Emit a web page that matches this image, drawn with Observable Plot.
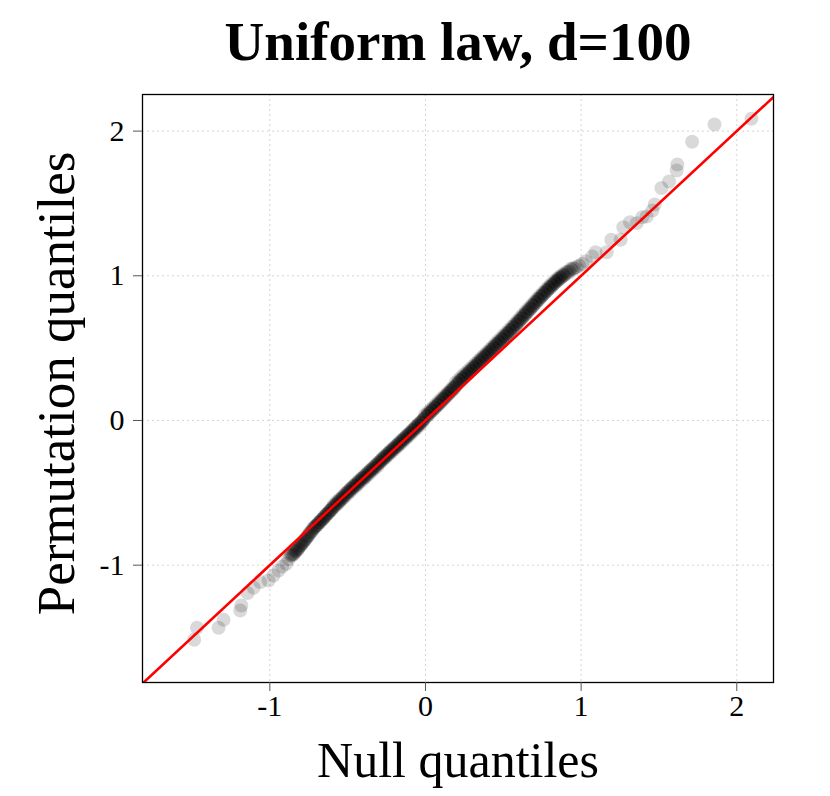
<!DOCTYPE html>
<html>
<head>
<meta charset="utf-8">
<script src="https://cdn.jsdelivr.net/npm/d3@7"></script>
<script src="https://cdn.jsdelivr.net/npm/@observablehq/plot@0.6"></script>
<style>
  html, body { margin: 0; padding: 0; background: #fff; }
  #title {
    box-sizing: border-box; height: 90px; padding-top: 14px; padding-left: 86px;
    width: 830px; text-align: center; font-family: "Liberation Serif", serif;
    font-weight: bold; font-size: 55px; line-height: 55px; color: #000;
  }
</style>
</head>
<body>
<div id="title">Uniform law, d=100</div>
<div id="chart"></div>
<script>
const titleText = "Uniform law, d=100";
const xLabel = "Null quantiles";
const yLabel = "Permutation quantiles";
const xTicks = [-1, 0, 1, 2];
const yTicks = [-1, 0, 1, 2];
const xDomain = [-1.818, 2.236];
const yDomain = [-1.811, 2.253];
const refLine = [-1.9, 2.35];

// Null quantiles (x) and permutation quantiles (y)
const nullQ = [
  -1.486,-1.468,-1.329,-1.297,-1.190,-1.183,-1.143,-1.104,-1.061,-1.008,-0.976,-0.944,-0.920,-0.894,-0.880,-0.868,
  -0.858,-0.850,-0.841,-0.832,-0.822,-0.813,-0.804,-0.795,-0.786,-0.776,-0.767,-0.757,-0.748,-0.738,-0.729,-0.719,-0.710,
  -0.701,-0.692,-0.683,-0.674,-0.664,-0.655,-0.646,-0.637,-0.628,-0.619,-0.610,-0.601,
  -0.592,-0.583,-0.574,-0.565,-0.556,-0.547,-0.538,-0.529,-0.520,-0.511,-0.502,-0.493,-0.484,-0.475,-0.466,-0.457,
  -0.448,-0.439,-0.430,-0.421,-0.412,-0.403,-0.394,-0.385,-0.376,-0.367,-0.358,-0.349,-0.340,-0.331,-0.322,-0.313,-0.304,
  -0.295,-0.286,-0.277,-0.268,-0.259,-0.250,-0.241,-0.232,-0.223,-0.214,-0.205,-0.196,-0.187,-0.178,-0.169,-0.160,
  -0.151,-0.142,-0.133,-0.124,-0.115,-0.106,-0.097,-0.088,-0.079,-0.070,-0.061,-0.052,-0.043,-0.034,-0.025,-0.016,-0.007,
  0.002,0.011,0.020,0.029,0.038,0.047,0.056,0.065,0.074,0.083,0.092,0.101,0.110,0.119,0.128,0.137,0.146,0.155,0.164,0.173,0.182,0.191,
  0.200,0.209,0.218,0.227,0.236,0.245,0.254,0.263,0.272,0.281,0.290,0.299,0.308,0.317,0.326,0.335,0.344,0.353,0.362,0.371,
  0.380,0.389,0.398,0.407,0.416,0.425,0.434,0.443,
  0.452,0.461,0.470,0.479,0.488,0.497,0.506,0.515,0.524,0.533,0.542,0.551,0.560,0.569,0.578,0.587,0.596,0.605,0.614,0.623,0.632,0.641,
  0.650,0.659,0.668,0.677,0.686,0.695,0.704,0.713,0.722,0.731,0.740,0.749,0.758,0.767,0.776,0.785,0.794,0.803,0.812,0.821,
  0.830,0.839,0.848,0.857,0.866,0.875,0.884,
  0.896,0.910,0.924,0.940,0.956,0.972,0.988,
  1.007,1.030,1.072,1.093,1.164,1.194,1.254,1.271,1.314,1.357,1.393,1.421,1.458,1.473,1.516,1.565,1.614,1.618,1.713,1.857,2.094,
  -0.862,-0.846,-0.836,-0.827,-0.818,-0.808,-0.799,-0.790,-0.781,-0.771,-0.762,-0.752,-0.743,-0.733,-0.724,-0.714,-0.705,
  -0.696,-0.687,-0.678,-0.669,-0.660,-0.651,-0.642,-0.633,-0.624,-0.615,-0.606,
  -0.597,-0.588,-0.579,-0.570,-0.561,-0.552,-0.543,-0.534,-0.525,-0.516,-0.507,-0.498,-0.489,-0.480,-0.471,-0.462,-0.453,
  -0.444,-0.435,-0.426,-0.417,-0.408,-0.399,-0.390,-0.381,-0.372,-0.363,-0.354,-0.345,-0.336,-0.327,-0.318,-0.309,-0.300,
  -0.291,-0.282,-0.273,-0.264,-0.255,-0.246,-0.237,-0.228,-0.219,-0.210,-0.201,-0.192,-0.183,-0.174,-0.165,-0.156,-0.147,
  -0.138,-0.129,-0.120,-0.111,-0.102,-0.093,-0.084,-0.075,-0.066,-0.057,-0.048,-0.039,-0.030,-0.021,-0.012,-0.003,
  0.006,0.015,0.024,0.033,0.042,0.051,0.060,0.069,0.078,0.087,0.096,0.105,0.114,0.123,0.132,0.141,0.150,0.159,0.168,0.177,0.186,0.195,
  0.204,0.213,0.222,0.231,0.240,0.249,0.258,0.267,0.276,0.285,0.294,0.303,0.312,0.321,0.330,0.339,0.348,0.357,0.366,0.375,
  0.384,0.393,0.402,0.411,0.420,0.429,0.438,0.447,
  0.456,0.465,0.474,0.483,0.492,0.501,0.510,0.519,0.528,0.537,0.546,0.555,0.564,0.573,0.582,0.591,0.600,0.609,0.618,0.627,0.636,0.645,
  0.654,0.663,0.672,0.681,0.690,0.699,0.708,0.717,0.726,0.735,0.744,0.753,0.762,0.771,0.780,0.789,0.798,0.807,0.816,0.825,
  0.834,0.843,0.852,0.861,0.870,0.879,0.890,0.903,0.917,0.932,0.948,0.964
];
const permQ = [
  -1.516,-1.433,-1.433,-1.378,-1.313,-1.279,-1.193,-1.156,-1.117,-1.106,-1.071,-1.037,-1.010,-0.990,-0.960,-0.933,
  -0.935,-0.925,-0.912,-0.905,-0.888,-0.878,-0.866,-0.852,-0.843,-0.828,-0.815,-0.800,-0.788,-0.772,-0.761,-0.745,-0.735,
  -0.728,-0.716,-0.705,-0.694,-0.686,-0.676,-0.665,-0.652,-0.644,-0.632,-0.622,-0.612,
  -0.600,-0.590,-0.578,-0.571,-0.560,-0.548,-0.541,-0.530,-0.518,-0.508,-0.497,-0.490,-0.480,-0.468,-0.461,-0.452,
  -0.447,-0.436,-0.424,-0.417,-0.405,-0.397,-0.392,-0.380,-0.370,-0.362,-0.350,-0.343,-0.334,-0.326,-0.314,-0.306,-0.297,
  -0.286,-0.279,-0.268,-0.260,-0.249,-0.242,-0.230,-0.223,-0.212,-0.204,-0.193,-0.186,-0.176,-0.169,-0.157,-0.149,
  -0.139,-0.131,-0.121,-0.113,-0.102,-0.094,-0.084,-0.075,-0.064,-0.055,-0.045,-0.036,-0.026,-0.016,-0.006,0.003,0.013,
  0.023,0.033,0.044,0.053,0.064,0.073,0.083,0.092,0.103,0.112,0.123,0.133,0.143,0.153,0.164,0.173,0.184,0.193,0.204,0.214,0.225,0.235,
  0.245,0.255,0.266,0.276,0.287,0.296,0.306,0.315,0.325,0.334,0.344,0.353,0.363,0.372,0.382,0.391,0.402,0.411,0.421,0.430,
  0.441,0.450,0.460,0.469,0.479,0.488,0.499,0.508,
  0.518,0.528,0.538,0.547,0.557,0.566,0.577,0.586,0.597,0.606,0.617,0.627,0.638,0.648,0.659,0.669,0.681,0.691,0.702,0.712,0.723,0.734,
  0.745,0.755,0.766,0.776,0.788,0.798,0.809,0.820,0.831,0.841,0.852,0.862,0.872,0.882,0.893,0.903,0.913,0.923,0.932,0.942,
  0.951,0.960,0.969,0.977,0.985,0.993,1.000,
  1.008,1.018,1.028,1.040,1.050,1.060,1.070,
  1.083,1.100,1.133,1.163,1.163,1.249,1.249,1.336,1.370,1.364,1.405,1.410,1.451,1.493,1.606,1.652,1.728,1.769,1.926,2.046,2.085,
  -0.925,-0.922,-0.900,-0.897,-0.888,-0.866,-0.861,-0.845,-0.832,-0.823,-0.806,-0.795,-0.776,-0.770,-0.750,-0.742,-0.727,
  -0.724,-0.706,-0.703,-0.685,-0.681,-0.664,-0.660,-0.644,-0.639,-0.621,-0.619,
  -0.601,-0.582,-0.590,-0.562,-0.572,-0.544,-0.555,-0.527,-0.535,-0.507,-0.516,-0.488,-0.496,-0.470,-0.479,-0.450,-0.460,
  -0.433,-0.443,-0.414,-0.424,-0.397,-0.407,-0.378,-0.389,-0.360,-0.371,-0.342,-0.352,-0.324,-0.334,-0.306,-0.317,-0.289,
  -0.292,-0.267,-0.274,-0.249,-0.256,-0.231,-0.238,-0.213,-0.220,-0.195,-0.202,-0.177,-0.184,-0.159,-0.166,-0.140,-0.148,
  -0.122,-0.129,-0.104,-0.111,-0.086,-0.092,-0.067,-0.073,-0.049,-0.054,-0.030,-0.035,-0.012,-0.016,0.007,
  0.038,0.030,0.056,0.049,0.075,0.068,0.094,0.087,0.113,0.106,0.133,0.125,0.152,0.145,0.172,0.164,0.191,0.184,0.211,0.203,0.230,0.223,
  0.262,0.253,0.282,0.272,0.301,0.290,0.319,0.308,0.337,0.326,0.355,0.345,0.374,0.364,0.393,0.383,0.412,0.401,0.431,0.420,
  0.450,0.440,0.469,0.458,0.488,0.477,0.507,0.497,
  0.528,0.521,0.548,0.540,0.567,0.559,0.587,0.579,0.607,0.599,0.627,0.619,0.648,0.640,0.668,0.661,0.690,0.682,0.711,0.703,0.733,0.725,
  0.755,0.748,0.776,0.770,0.798,0.791,0.819,0.813,0.841,0.834,0.862,0.854,0.882,0.875,0.903,0.895,0.923,0.914,0.942,0.933,
  0.960,0.951,0.978,0.968,0.994,0.985,1.010,1.003,1.025,1.032,1.048,1.052
];

const points = nullQ.map((x, i) => ({x, y: permQ[i]}));
const fmt = d => String(d);

const chart = Plot.plot({
  width: 830,
  height: 706,
  marginTop: 4,
  marginBottom: 114,
  marginLeft: 142,
  marginRight: 57,
  style: {fontFamily: "Liberation Serif, serif", fontSize: "30px", background: "#fff", color: "#000", overflow: "visible"},
  x: {domain: xDomain},
  y: {domain: yDomain},
  marks: [
    Plot.gridX(xTicks, {stroke: "#d4d4d4", strokeOpacity: 1, strokeDasharray: "2,3"}),
    Plot.gridY(yTicks, {stroke: "#d4d4d4", strokeOpacity: 1, strokeDasharray: "2,3"}),
    Plot.dot(points, {x: "x", y: "y", r: 7, fill: "#000", fillOpacity: 0.15, stroke: "none"}),
    Plot.line(refLine, {x: d => d, y: d => d, stroke: "#ff0000", strokeWidth: 2.6, clip: true}),
    Plot.frame({stroke: "#000", strokeWidth: 1.3}),
    Plot.axisX(xTicks, {tickSize: 9, tickPadding: 3, tickFormat: fmt, label: null, stroke: "#555", fontSize: 30}),
    Plot.axisY(yTicks, {tickSize: 9, tickPadding: 9, tickFormat: fmt, label: null, stroke: "#555", fontSize: 30}),
    Plot.text([xLabel], {frameAnchor: "bottom", lineAnchor: "middle", textAnchor: "middle", dy: 78, fontSize: 50, fill: "#000", text: d => d}),
    Plot.text([yLabel], {frameAnchor: "left", lineAnchor: "middle", textAnchor: "middle", dx: -85, dy: -5, rotate: -90, fontSize: 53, fill: "#000", text: d => d})
  ]
});
document.getElementById("chart").appendChild(chart);
</script>
</body>
</html>
